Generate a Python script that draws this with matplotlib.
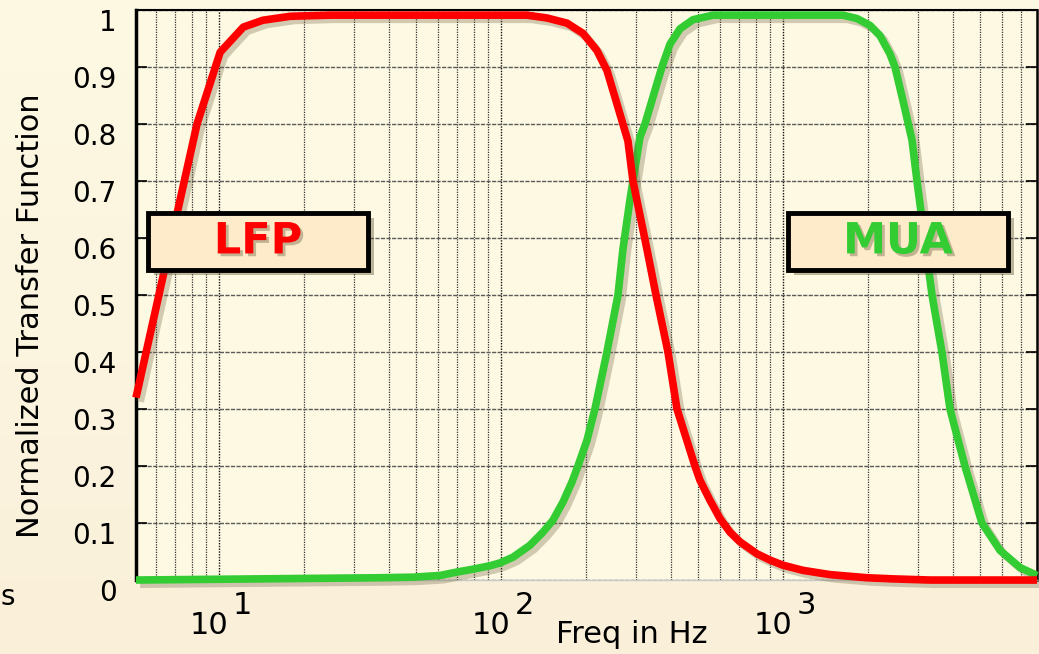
import numpy as np
import matplotlib
matplotlib.use("Agg")
import matplotlib.pyplot as plt
import matplotlib.patheffects as pe
import matplotlib.transforms as mtransforms
from matplotlib.patches import Rectangle
from matplotlib.ticker import LogLocator, NullFormatter, FixedLocator

# Filter transfer functions (frequency in Hz, normalized gain)
lfp_freq = [5.08, 8.36, 10.1, 12.2, 14.3, 17.9, 24.8, 123.6, 145.6, 171.4, 195.4,
            218.9, 237.6, 253.7, 270.7, 282.1, 293.8, 329.5, 354.6, 391.1, 420.9,
            487.4, 507.8, 551, 597.9, 648.8, 704, 808.9, 899.4, 1000, 1177, 1468,
            1986, 2455, 3322, 7960]
lfp_gain = [0.32, 0.80, 0.926, 0.97, 0.982, 0.989, 0.991, 0.991, 0.986, 0.977, 0.959,
            0.929, 0.894, 0.847, 0.80, 0.77, 0.70, 0.58, 0.50, 0.40, 0.30,
            0.20, 0.175, 0.14, 0.108, 0.084, 0.067, 0.046, 0.035, 0.026, 0.017, 0.0095,
            0.004, 0.002, 0.0, 0.0]

mua_freq = [5.08, 37.2, 48.7, 60.8, 69.8, 79.6, 91.4, 99.2, 110.3, 126.7, 140.9, 152.9,
            166, 178.6, 187.5, 201.8, 215.4, 237.6, 260, 270.7, 286.7, 311.1, 324.1,
            357.5, 372.3, 397.4, 431.3, 479.7, 564.8, 1632, 1830, 2035, 2208, 2395,
            2496, 2664, 2868, 2987, 3377, 3662, 3911, 4418, 5077, 5884, 6924, 7960]
mua_gain = [0.0, 0.004, 0.005, 0.008, 0.014, 0.019, 0.025, 0.03, 0.04, 0.061, 0.084, 0.105,
            0.137, 0.172, 0.20, 0.245, 0.30, 0.40, 0.50, 0.58, 0.667, 0.777, 0.80,
            0.871, 0.90, 0.94, 0.967, 0.983, 0.991, 0.991, 0.985, 0.973, 0.955, 0.923,
            0.90, 0.841, 0.772, 0.70, 0.50, 0.40, 0.30, 0.20, 0.10, 0.052, 0.022, 0.008]

y_ticks = [0, 0.1, 0.2, 0.3, 0.4, 0.5, 0.6, 0.7, 0.8, 0.9, 1]
y_tick_labels = ["0", "0.1", "0.2", "0.3", "0.4", "0.5", "0.6", "0.7", "0.8", "0.9", "1"]
decades = [1, 2, 3]

plt.rcParams['font.family'] = ['DejaVu Sans']

fig = plt.figure(figsize=(10.39, 6.54), dpi=100)

# cream background with a soft vertical gradient
bg = fig.add_axes([0, 0, 1, 1], zorder=-10)
grad = np.linspace(0, 1, 256).reshape(-1, 1)
cmap = matplotlib.colors.LinearSegmentedColormap.from_list("bg", ["#fdf9e3", "#faf0da"])
bg.imshow(grad, aspect="auto", cmap=cmap, extent=[0, 1, 0, 1], origin="upper")
bg.axis("off")

ax = fig.add_axes([0.1309, 0.1131, 0.8672, 0.8716])
ax.set_facecolor("#fef9e2")
ax.set_xscale("log")
ax.set_xlim(5.08, 7960)
ax.set_ylim(0, 1)

# grid: dotted verticals on every log step, gray horizontals every 0.1
ax.xaxis.set_major_locator(LogLocator(base=10, numticks=10))
ax.xaxis.set_minor_locator(LogLocator(base=10, subs=np.arange(2, 10), numticks=20))
ax.xaxis.set_major_formatter(NullFormatter())
ax.xaxis.set_minor_formatter(NullFormatter())
ax.grid(True, which="major", axis="x", color="#111111", linestyle=(0, (1, 1)), linewidth=1.0)
ax.grid(True, which="minor", axis="x", color="#333333", linestyle=(0, (1, 1)), linewidth=0.9)
ax.yaxis.set_major_locator(FixedLocator(y_ticks))
ax.set_yticklabels(y_tick_labels, fontsize=20)
ax.grid(True, which="major", axis="y", color="#5a5a5a", linestyle=(0, (3, 1)), linewidth=1.0)
ax.tick_params(axis="y", direction="in", length=8, width=1.2, right=True, pad=14)
ax.tick_params(axis="x", which="both", direction="in", length=0)

# y labels sit a little below their tick
shift = mtransforms.ScaledTranslation(0, -7 / 72, fig.dpi_scale_trans)
for lbl in ax.get_yticklabels():
    lbl.set_transform(lbl.get_transform() + shift)

for side, lw, col in [("left", 2.5, "black"), ("top", 1.5, "black"),
                      ("right", 1.8, "black"), ("bottom", 1.0, "#c8c8c8")]:
    ax.spines[side].set_linewidth(lw)
    ax.spines[side].set_color(col)

shadow = [pe.SimpleLineShadow(offset=(3, -3), shadow_color="#6b6040", alpha=0.3),
          pe.Normal()]
ax.plot(mua_freq, mua_gain, color="#33cc33", linewidth=5.5, solid_capstyle="butt",
        path_effects=shadow, zorder=3, clip_on=False)
ax.plot(lfp_freq, lfp_gain, color="#ff0000", linewidth=5.5, solid_capstyle="butt",
        path_effects=shadow, zorder=4, clip_on=False)

# decade labels written as "10" with a raised exponent
for k in decades:
    ax.annotate("10", xy=(10 ** k, 0), xycoords=("data", "axes fraction"),
                xytext=(-7, -33), textcoords="offset points",
                ha="center", va="center", fontsize=22)
    ax.annotate(str(k), xy=(10 ** k, 0), xycoords=("data", "axes fraction"),
                xytext=(17, -18), textcoords="offset points",
                ha="center", va="center", fontsize=22)

fig.text(0.608, 0.03, "Freq in Hz", ha="center", va="center", fontsize=22)
fig.text(0.029, 0.518, "Normalized Transfer Function", rotation=90,
         ha="center", va="center", fontsize=22)
fig.text(0.0, 0.087, "s", ha="left", va="center", fontsize=20)

# boxed band labels
blend = mtransforms.blended_transform_factory(ax.transAxes, ax.transData)
for x0, x1, label, color in [(0.0133, 0.2575, "LFP", "#ff0000"),
                             (0.7236, 0.9678, "MUA", "#33cc33")]:
    box = Rectangle((x0, 0.544), x1 - x0, 0.1, transform=blend,
                    facecolor="#fdebc9", edgecolor="black", linewidth=3.5, zorder=6,
                    path_effects=[pe.SimplePatchShadow(offset=(4, -4), shadow_rgbFace="#5a5030", alpha=0.4),
                                  pe.Normal()])
    ax.add_patch(box)
    ax.text((x0 + x1) / 2, 0.594, label, transform=blend, ha="center", va="center",
            fontsize=31, fontweight="bold", color=color, zorder=7,
            path_effects=[pe.withSimplePatchShadow(offset=(2, -2), shadow_rgbFace="#6b6040", alpha=0.4)])

fig.savefig("out.png", dpi=100)
